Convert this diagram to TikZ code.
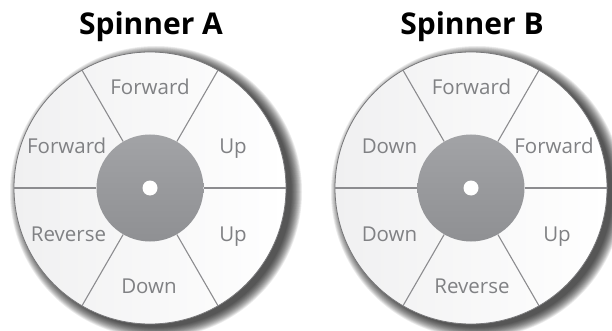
\documentclass[tikz,border=0pt]{standalone}
\usepackage{fontspec}
\setmainfont{Open Sans}
\definecolor{rimgray}{RGB}{120,120,122}
\definecolor{spokegray}{RGB}{140,140,143}
\definecolor{hubtop}{RGB}{162,163,166}
\definecolor{hubbot}{RGB}{143,144,147}
\definecolor{labelgray}{RGB}{128,129,132}
\definecolor{facegray}{RGB}{240,240,241}
\tikzset{
  shadowring/.style={fill=black, opacity=0.07},
  rim/.style={circle, inner sep=0pt, minimum size=272pt, draw=rimgray, line width=0.8pt,
              left color=facegray, right color=white, shading angle=90},
  hub/.style={circle, inner sep=0pt, minimum size=107pt, top color=hubtop, bottom color=hubbot},
  hole/.style={circle, inner sep=0pt, minimum size=15pt, fill=white},
  spoke/.style={draw=spokegray, line width=1.1pt},
  lbl/.style={anchor=base, text=labelgray, font=\fontsize{20.5}{24}\selectfont, inner sep=0pt},
  ttl/.style={anchor=base, text=black, font=\bfseries\fontsize{30}{34}\selectfont, inner sep=0pt}
}
\begin{document}
\begin{tikzpicture}[x=1pt, y=-1pt]
\useasboundingbox (0,0) rectangle (612,331);
% shadows
\foreach \cx in {150,471}{
  \foreach \i in {0,...,14}{
    \fill[shadowring] (\cx+6,192) circle[radius={136pt+10pt-\i*0.75pt}];
  }
}
% spinner A
\node[rim] (rimA) at (150,188) {};
\node[hub] (hubA) at (150,188) {};
\node[hole] (holeA) at (150,188) {};
\foreach \a in {0,60,...,300}{
  \draw[spoke] (hubA.\a) -- (rimA.\a);
}
\node[ttl] (titleA) at (151,34.3) {Spinner A};
\node[lbl] (a1) at (150,95) {Forward};
\node[lbl] (a2) at (66.7,153.3) {Forward};
\node[lbl] (a3) at (233,153.3) {Up};
\node[lbl] (a4) at (68.5,241.7) {Reverse};
\node[lbl] (a5) at (233,241.7) {Up};
\node[lbl] (a6) at (149,293.3) {Down};
% spinner B
\node[rim] (rimB) at (471,188) {};
\node[hub] (hubB) at (471,188) {};
\node[hole] (holeB) at (471,188) {};
\foreach \a in {0,60,...,300}{
  \draw[spoke] (hubB.\a) -- (rimB.\a);
}
\node[ttl] (titleB) at (472,34.3) {Spinner B};
\node[lbl] (b1) at (471.5,95) {Forward};
\node[lbl] (b2) at (389.5,153.3) {Down};
\node[lbl] (b3) at (554,153.3) {Forward};
\node[lbl] (b4) at (389.5,241.7) {Down};
\node[lbl] (b5) at (557,241.7) {Up};
\node[lbl] (b6) at (472,293.3) {Reverse};
\end{tikzpicture}
\end{document}
